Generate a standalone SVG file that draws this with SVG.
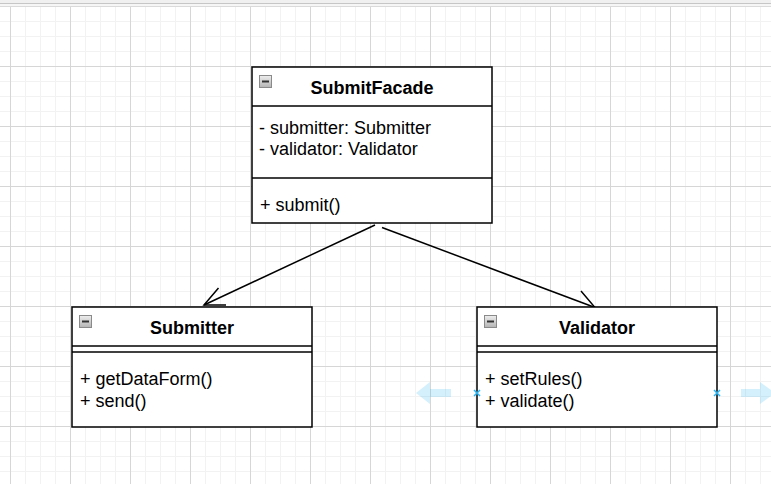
<svg xmlns="http://www.w3.org/2000/svg" width="771" height="484" viewBox="0 0 771 484">
  <style>
    .box { fill: #ffffff; stroke: #000000; stroke-width: 1.5; }
    .sep { stroke: #000000; stroke-width: 1.5; fill: none; }
    .title { font-family: "Liberation Sans", Arial, sans-serif; font-size: 18px; font-weight: bold; fill: #000000; text-anchor: middle; }
    .item { font-family: "Liberation Sans", Arial, sans-serif; font-size: 18px; fill: #000000; }
    .edge { stroke: #000000; stroke-width: 1.5; fill: none; }
    .icon { fill: url(#iconGrad); stroke: #8a8a8a; stroke-width: 1; }
    .iconbar { fill: #333333; }
    .hint { fill: #29b6f2; opacity: 0.2; }
    .cross { stroke: #29b6f2; stroke-width: 1.5; }
  </style>
  <defs>
    <linearGradient id="iconGrad" x1="0" y1="0" x2="0" y2="1">
      <stop offset="0" stop-color="#eeeeee"/>
      <stop offset="1" stop-color="#b4b4b4"/>
    </linearGradient>
    <pattern id="minor" x="10" y="6" width="15" height="15" patternUnits="userSpaceOnUse">
      <rect x="0" y="0" width="1" height="15" fill="#f2f2f2"/>
      <rect x="0" y="0" width="15" height="1" fill="#f2f2f2"/>
    </pattern>
    <pattern id="major" x="10" y="6" width="60" height="60" patternUnits="userSpaceOnUse">
      <rect x="0" y="0" width="1" height="60" fill="#d6d6d6"/>
      <rect x="0" y="0" width="60" height="1" fill="#d6d6d6"/>
    </pattern>
  </defs>

  <rect x="0" y="0" width="771" height="484" fill="#ffffff"/>
  <rect x="0" y="7" width="771" height="477" fill="url(#minor)"/>
  <rect x="0" y="7" width="771" height="477" fill="url(#major)"/>
  <rect x="0" y="0" width="771" height="3" fill="#f0f0f0"/>
  <rect x="0" y="3" width="771" height="1" fill="#c6c6c6"/>
  <rect x="0" y="4" width="771" height="2" fill="#f6f6f6"/>
  <rect x="0" y="6" width="771" height="1" fill="#dadada"/>

  <g id="connectors">
    <path class="edge" d="M 375 225 L 204 305"/>
    <path class="edge" d="M 218.5 288 L 204 305 L 226 305"/>
    <path class="edge" d="M 382 227.5 L 595 307.5"/>
    <path class="edge" d="M 581 291 L 595 307.5 L 575 309"/>
  </g>

  <g id="SubmitFacade">
    <rect class="box" x="252" y="67" width="240" height="156"/>
    <line class="sep" x1="252" y1="106" x2="492" y2="106"/>
    <line class="sep" x1="252" y1="178" x2="492" y2="178"/>
    <rect class="icon" x="259.5" y="75.5" width="12" height="12"/>
    <rect class="iconbar" x="262" y="80.5" width="7" height="2"/>
    <text class="title" x="372" y="94">SubmitFacade</text>
    <text class="item" x="259" y="133.5">- submitter: Submitter</text>
    <text class="item" x="259" y="155">- validator: Validator</text>
    <text class="item" x="260" y="211">+ submit()</text>
  </g>

  <g id="Submitter">
    <rect class="box" x="72" y="307" width="240" height="120"/>
    <line class="sep" x1="72" y1="346" x2="312" y2="346"/>
    <line class="sep" x1="72" y1="352" x2="312" y2="352"/>
    <rect class="icon" x="79.5" y="315.5" width="12" height="12"/>
    <rect class="iconbar" x="82" y="320.5" width="7" height="2"/>
    <text class="title" x="192" y="334">Submitter</text>
    <text class="item" x="80" y="385">+ getDataForm()</text>
    <text class="item" x="80" y="406.5">+ send()</text>
  </g>

  <g id="Validator">
    <rect class="box" x="477" y="307" width="240" height="120"/>
    <line class="sep" x1="477" y1="346" x2="717" y2="346"/>
    <line class="sep" x1="477" y1="352" x2="717" y2="352"/>
    <rect class="icon" x="484.5" y="315.5" width="12" height="12"/>
    <rect class="iconbar" x="487" y="320.5" width="7" height="2"/>
    <text class="title" x="597" y="334">Validator</text>
    <text class="item" x="485" y="385">+ setRules()</text>
    <text class="item" x="485" y="406.5">+ validate()</text>
  </g>

  <g id="hover-hints">
    <polygon class="hint" points="416,393 430,382 430,389 451,389 451,397 430,397 430,404"/>
    <polygon class="hint" points="741,389 760,389 760,382 775,393 760,404 760,397 741,397"/>
    <path class="cross" d="M 474 390 L 480 396 M 480 390 L 474 396"/>
    <path class="cross" d="M 714 390 L 720 396 M 720 390 L 714 396"/>
  </g>
</svg>
